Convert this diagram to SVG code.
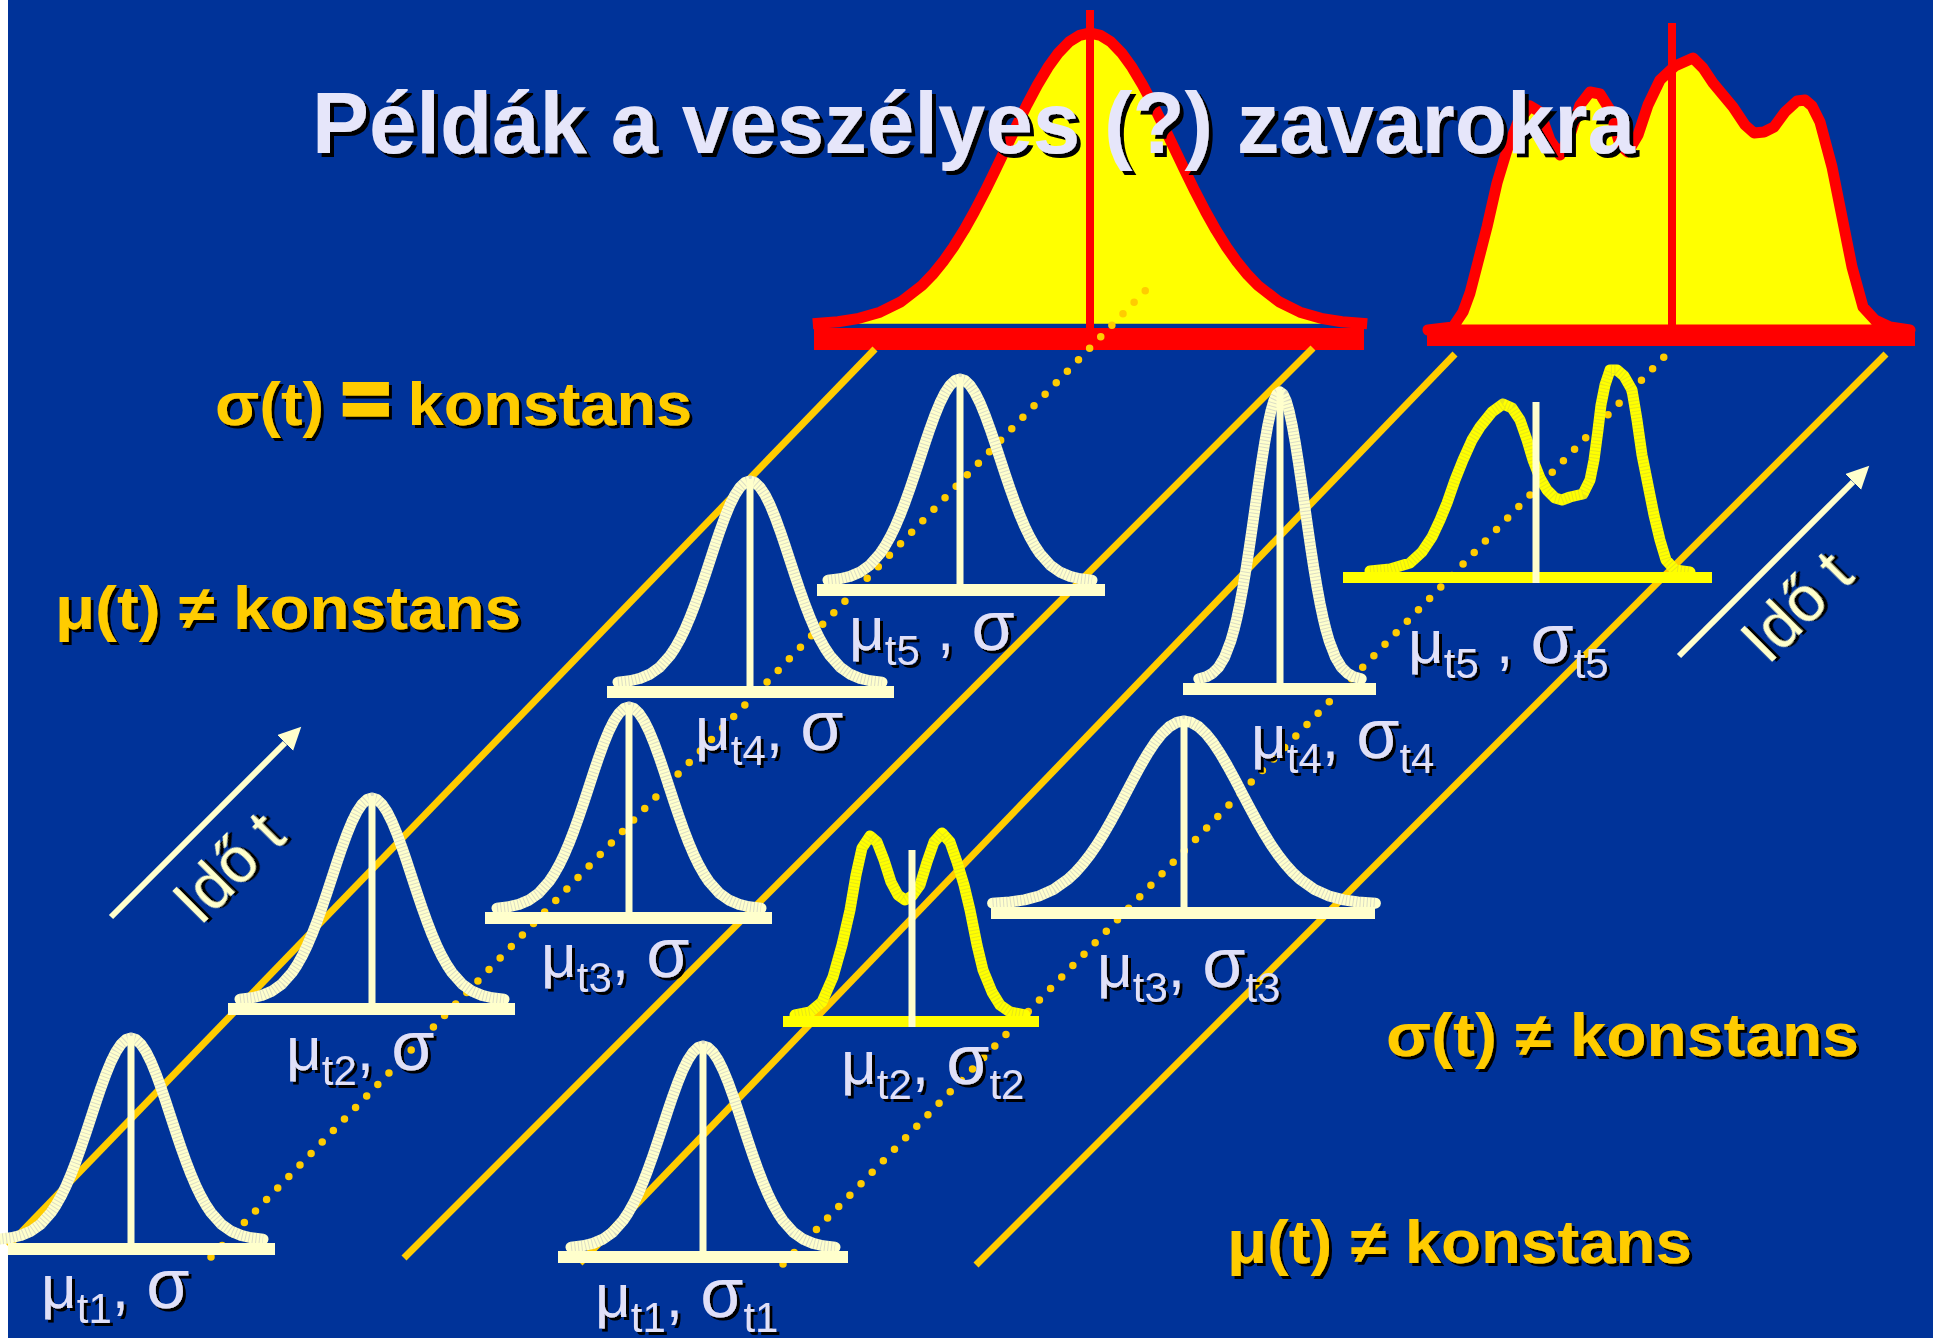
<svg xmlns="http://www.w3.org/2000/svg" xmlns:xlink="http://www.w3.org/1999/xlink" width="1933" height="1338" viewBox="0 0 1933 1338">
<defs>
<style>
.lab{font-family:"Liberation Sans",Arial,sans-serif;font-size:62px;fill:#E0E0F8;filter:url(#sh)}
.sub{font-size:42px}
.sg{font-size:70px}
.ot{font-family:"Liberation Sans",Arial,sans-serif;font-weight:bold;font-size:62px;fill:#FFCC00;filter:url(#sh)}
.eq{font-size:78px;stroke:#FFCC00;stroke-width:5}
.title{font-family:"Liberation Sans",Arial,sans-serif;font-weight:bold;font-size:87px;fill:#E6E6FA;filter:url(#shT)}
.bell{fill:none;stroke:#FFFFCC;stroke-width:11;stroke-linejoin:round;stroke-linecap:round}
.tex{fill:none;stroke:#8A90B8;stroke-width:11;stroke-dasharray:1 2.5;opacity:.3}
.cl{stroke:#FFFFCC;stroke-width:7}
.bar{fill:#FFFFCC}
.ybar{fill:#FFFF00}
.ycurve{fill:none;stroke:#FFFF00;stroke-width:11;stroke-linejoin:round;stroke-linecap:round}
.ytex{fill:none;stroke:#A0A060;stroke-width:11;stroke-dasharray:1 2.5;opacity:.25}
.gl{stroke:#FFCC00;stroke-width:7;fill:none}
.dot{stroke:#FFCC00;stroke-width:7.5;stroke-linecap:round;stroke-dasharray:0 16;fill:none}
.arr{stroke:#FFFFCC;stroke-width:6;marker-end:url(#ah)}
.ido{font-family:"Liberation Sans",Arial,sans-serif;font-size:64px;fill:#FFFFCC;filter:url(#sh)}
.big{fill:#FFFF00;stroke:#FF0000;stroke-width:11;stroke-linejoin:round}
.rl{stroke:#FF0000;stroke-width:8}
.rbar{fill:#FF0000}
</style>
<filter id="sh" x="-10%" y="-20%" width="120%" height="150%"><feDropShadow dx="3" dy="3" stdDeviation="0.5" flood-color="#000000" flood-opacity="1"/></filter>
<filter id="shT" x="-5%" y="-20%" width="110%" height="150%"><feDropShadow dx="4" dy="4" stdDeviation="0.5" flood-color="#000000" flood-opacity="1"/></filter>
<marker id="ah" markerUnits="userSpaceOnUse" markerWidth="26" markerHeight="26" refX="0" refY="11.3" orient="auto" viewBox="0 0 26 26"><path d="M0,0 L23,11.3 L0,22.6 Z" fill="#FFFFCC"/></marker>
<path id="g" vector-effect="non-scaling-stroke" d="M-3.3,-.00432 L-3,-.01111 L-2.75,-.02279 L-2.5,-.04394 L-2.25,-.07956 L-2,-.13534 L-1.875,-.17242 L-1.75,-.21627 L-1.625,-.26706 L-1.5,-.32465 L-1.375,-.38857 L-1.25,-.45783 L-1.125,-.5311 L-1,-.60653 L-.875,-.68196 L-.75,-.75484 L-.625,-.82258 L-.5,-.8825 L-.375,-.9321 L-.25,-.96923 L-.125,-.99222 L0,-1 L.125,-.99222 L.25,-.96923 L.375,-.9321 L.5,-.8825 L.625,-.82258 L.75,-.75484 L.875,-.68196 L1,-.60653 L1.125,-.5311 L1.25,-.45783 L1.375,-.38857 L1.5,-.32465 L1.625,-.26706 L1.75,-.21627 L1.875,-.17242 L2,-.13534 L2.25,-.07956 L2.5,-.04394 L2.75,-.02279 L3,-.01111 L3.3,-.00432"/>
</defs>

<rect x="0" y="0" width="1933" height="1338" fill="#003399"/>
<rect x="0" y="0" width="8" height="1338" fill="#FFFFFF"/>

<g id="big-normal">
<use xlink:href="#g" href="#g" class="big" transform="translate(1090,325) scale(84,292)"/>
<line class="rl" x1="1090" y1="10" x2="1090" y2="330"/>
<rect class="rbar" x="814" y="328" width="550" height="22"/>
</g>

<g id="big-multimodal">
<path class="big" d="M1428,330 L1453,327 L1463,312 L1470,293 L1478,262 L1487,227 L1497,183 L1507,150 L1518,122 L1530,106 L1540,112 L1550,140 L1560,155 L1570,135 L1580,105 L1590,92 L1600,94 L1610,110 L1620,145 L1628,152 L1638,135 L1648,105 L1660,80 L1675,66 L1693,58 L1703,68 L1713,83 L1733,107 L1745,125 L1754,133 L1764,132 L1774,127 L1785,112 L1797,101 L1805,100 L1812,106 L1820,122 L1832,167 L1842,217 L1852,267 L1863,307 L1875,320 L1890,327 L1910,330 Z"/>
<line class="rl" x1="1672" y1="23" x2="1672" y2="332" stroke-width="7"/>
<rect class="rbar" x="1427" y="330" width="488" height="16"/>
</g>

<g id="connectors">
<line class="gl" x1="8" y1="1246" x2="875" y2="349"/>
<line class="gl" x1="404" y1="1258" x2="1313" y2="348"/>
<line class="gl" x1="580" y1="1263" x2="1455" y2="354"/>
<line class="gl" x1="976" y1="1265" x2="1886" y2="354"/>
<line class="dot" x1="211" y1="1257" x2="1146" y2="290"/>
<line class="dot" x1="783" y1="1264" x2="1668" y2="353"/>
</g>

<g id="bell-mu1-s">
<use href="#g" class="bell" transform="translate(131,1240) scale(40,202)"/>
<use href="#g" class="tex" transform="translate(131,1240) scale(40,202)"/>
<line class="cl" x1="131" y1="1036" x2="131" y2="1248"/>
<rect class="bar" x="8" y="1243" width="267" height="12"/>
<text class="lab" x="41" y="1308">μ<tspan class="sub" dy="15">t1</tspan><tspan dy="-15">, </tspan><tspan class="sg">σ</tspan></text>
</g>

<g id="bell-mu2-s">
<use href="#g" class="bell" transform="translate(372,1000) scale(40,202)"/>
<use href="#g" class="tex" transform="translate(372,1000) scale(40,202)"/>
<line class="cl" x1="372" y1="796" x2="372" y2="1008"/>
<rect class="bar" x="228" y="1003" width="287" height="12"/>
<text class="lab" x="286" y="1070">μ<tspan class="sub" dy="15">t2</tspan><tspan dy="-15">, </tspan><tspan class="sg">σ</tspan></text>
</g>

<g id="bell-mu3-s">
<use href="#g" class="bell" transform="translate(629,909) scale(40,202)"/>
<use href="#g" class="tex" transform="translate(629,909) scale(40,202)"/>
<line class="cl" x1="629" y1="705" x2="629" y2="917"/>
<rect class="bar" x="485" y="912" width="287" height="12"/>
<text class="lab" x="541" y="977">μ<tspan class="sub" dy="15">t3</tspan><tspan dy="-15">, </tspan><tspan class="sg">σ</tspan></text>
</g>

<g id="bell-mu4-s">
<use href="#g" class="bell" transform="translate(750,683) scale(40,202)"/>
<use href="#g" class="tex" transform="translate(750,683) scale(40,202)"/>
<line class="cl" x1="750" y1="479" x2="750" y2="691"/>
<rect class="bar" x="607" y="686" width="287" height="12"/>
<text class="lab" x="695" y="750">μ<tspan class="sub" dy="15">t4</tspan><tspan dy="-15">, </tspan><tspan class="sg">σ</tspan></text>
</g>

<g id="bell-mu5-s">
<use href="#g" class="bell" transform="translate(960,581) scale(40,202)"/>
<use href="#g" class="tex" transform="translate(960,581) scale(40,202)"/>
<line class="cl" x1="960" y1="377" x2="960" y2="589"/>
<rect class="bar" x="817" y="584" width="288" height="12"/>
<text class="lab" x="849" y="650">μ<tspan class="sub" dy="15">t5</tspan><tspan dy="-15"> , </tspan><tspan class="sg">σ</tspan></text>
</g>

<g id="bell-mu1-s1">
<use href="#g" class="bell" transform="translate(703,1248) scale(40,202)"/>
<use href="#g" class="tex" transform="translate(703,1248) scale(40,202)"/>
<line class="cl" x1="703" y1="1044" x2="703" y2="1256"/>
<rect class="bar" x="558" y="1251" width="290" height="12"/>
<text class="lab" x="595" y="1317">μ<tspan class="sub" dy="15">t1</tspan><tspan dy="-15">, </tspan><tspan class="sg">σ</tspan><tspan class="sub" dy="15">t1</tspan></text>
</g>

<g id="bell-mu2-s2">
<polyline class="ycurve" points="795,1015 810,1012 822,1002 833,977 842,945 850,910 856,875 862,848 870,836 877,842 884,860 891,882 898,895 905,900 912,896 920,885 927,862 934,842 942,833 950,842 957,862 964,885 970,910 977,945 983,970 992,992 1000,1005 1010,1012 1025,1015"/>
<polyline class="ytex" points="795,1015 810,1012 822,1002 833,977 842,945 850,910 856,875 862,848 870,836 877,842 884,860 891,882 898,895 905,900 912,896 920,885 927,862 934,842 942,833 950,842 957,862 964,885 970,910 977,945 983,970 992,992 1000,1005 1010,1012 1025,1015"/>
<rect class="ybar" x="783" y="1016" width="256" height="11"/>
<line class="cl" x1="912" y1="850" x2="912" y2="1027"/>
<text class="lab" x="841" y="1084">μ<tspan class="sub" dy="15">t2</tspan><tspan dy="-15">, </tspan><tspan class="sg">σ</tspan><tspan class="sub" dy="15">t2</tspan></text>
</g>

<g id="bell-mu3-s3">
<use href="#g" class="bell" transform="translate(1184,904) scale(58,183)"/>
<use href="#g" class="tex" transform="translate(1184,904) scale(58,183)"/>
<line class="cl" x1="1184" y1="719" x2="1184" y2="912"/>
<rect class="bar" x="991" y="907" width="384" height="12"/>
<text class="lab" x="1097" y="987">μ<tspan class="sub" dy="15">t3</tspan><tspan dy="-15">, </tspan><tspan class="sg">σ</tspan><tspan class="sub" dy="15">t3</tspan></text>
</g>

<g id="bell-mu4-s4">
<use href="#g" class="bell" transform="translate(1280,680) scale(24.6,288)"/>
<use href="#g" class="tex" transform="translate(1280,680) scale(24.6,288)"/>
<line class="cl" x1="1280" y1="390" x2="1280" y2="688"/>
<rect class="bar" x="1183" y="683" width="193" height="12"/>
<text class="lab" x="1251" y="758">μ<tspan class="sub" dy="15">t4</tspan><tspan dy="-15">, </tspan><tspan class="sg">σ</tspan><tspan class="sub" dy="15">t4</tspan></text>
</g>

<g id="bell-mu5-s5">
<polyline class="ycurve" points="1370,571 1390,569 1410,563 1422,552 1432,537 1440,520 1447,503 1455,480 1463,460 1472,440 1480,427 1492,412 1503,404 1512,408 1520,420 1527,440 1533,460 1540,478 1547,490 1555,498 1562,500 1570,497 1583,494 1590,480 1594,460 1598,430 1601,405 1605,385 1610,370 1617,370 1624,376 1632,390 1637,420 1642,455 1648,485 1654,515 1660,540 1666,560 1675,570 1690,572"/>
<polyline class="ytex" points="1370,571 1390,569 1410,563 1422,552 1432,537 1440,520 1447,503 1455,480 1463,460 1472,440 1480,427 1492,412 1503,404 1512,408 1520,420 1527,440 1533,460 1540,478 1547,490 1555,498 1562,500 1570,497 1583,494 1590,480 1594,460 1598,430 1601,405 1605,385 1610,370 1617,370 1624,376 1632,390 1637,420 1642,455 1648,485 1654,515 1660,540 1666,560 1675,570 1690,572"/>
<rect class="ybar" x="1343" y="572" width="369" height="11"/>
<line class="cl" x1="1536" y1="402" x2="1536" y2="583"/>
<text class="lab" x="1408" y="663">μ<tspan class="sub" dy="15">t5</tspan><tspan dy="-15"> , </tspan><tspan class="sg">σ</tspan><tspan class="sub" dy="15">t5</tspan></text>
</g>

<g id="time-arrow-left">
<line class="arr" x1="111" y1="917" x2="285" y2="743"/>
<text class="ido" transform="translate(200,927) rotate(-45)">Idő t</text>
</g>
<g id="time-arrow-right">
<line class="arr" x1="1679" y1="656" x2="1853" y2="482"/>
<text class="ido" transform="translate(1768,666) rotate(-45)">Idő t</text>
</g>

<g id="notes">
<text class="ot" x="215" y="425" textLength="477" lengthAdjust="spacingAndGlyphs">σ(t) <tspan class="eq">=</tspan> konstans</text>
<text class="ot" x="55" y="629" textLength="466" lengthAdjust="spacingAndGlyphs">μ(t) ≠ konstans</text>
<text class="ot" x="1386" y="1056" textLength="473" lengthAdjust="spacingAndGlyphs">σ(t) ≠ konstans</text>
<text class="ot" x="1227" y="1263" textLength="465" lengthAdjust="spacingAndGlyphs">μ(t) ≠ konstans</text>
</g>

<g id="title">
<text class="title" x="312" y="153" textLength="1323" lengthAdjust="spacingAndGlyphs">Példák a veszélyes (?) zavarokra</text>
</g>
</svg>
